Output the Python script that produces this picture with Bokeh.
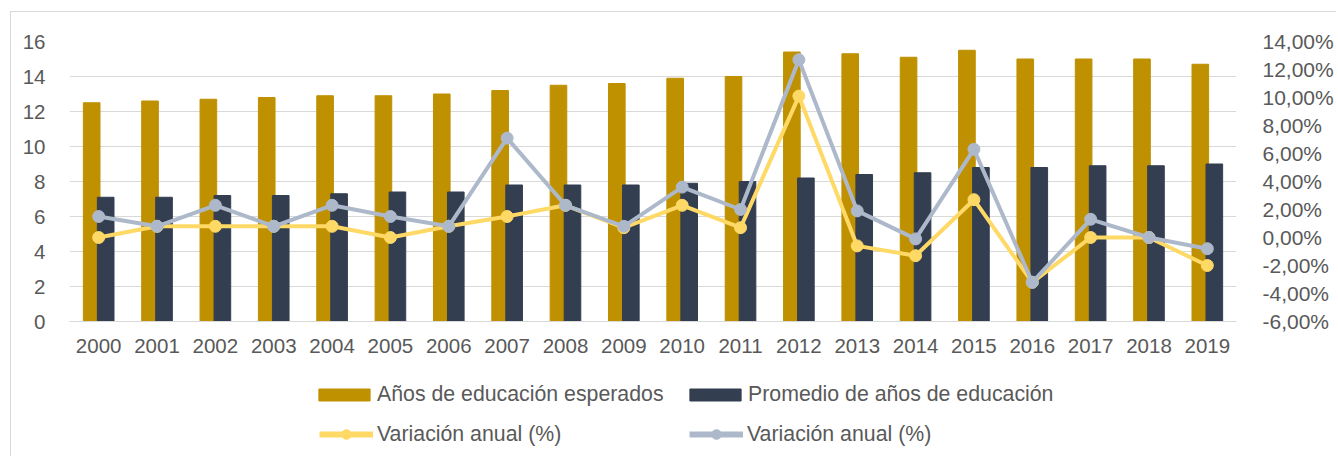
from bokeh.plotting import figure
from bokeh.layouts import column
from bokeh.models import (Range1d, LinearAxis, FixedTicker, CustomJSTickFormatter,
                          Legend, LegendItem, ColumnDataSource)
from bokeh.transform import dodge
from bokeh.embed import file_html
from bokeh.resources import INLINE

years = [str(y) for y in range(2000, 2020)]
esperados = [12.5, 12.6, 12.7, 12.8, 12.9, 12.9, 13.0, 13.2, 13.5, 13.6,
             13.9, 14.0, 15.4, 15.3, 15.1, 15.5, 15.0, 15.0, 15.0, 14.7]
promedio = [7.1, 7.1, 7.2, 7.2, 7.3, 7.4, 7.4, 7.8, 7.8, 7.8,
            7.9, 8.0, 8.2, 8.4, 8.5, 8.8, 8.8, 8.9, 8.9, 9.0]
var_esperados = [0.0, 0.8, 0.8, 0.8, 0.8, 0.0, 0.8, 1.5, 2.3, 0.7,
                 2.3, 0.7, 10.1, -0.6, -1.3, 2.7, -3.2, 0.0, 0.0, -2.0]
var_promedio = [1.5, 0.8, 2.3, 0.8, 2.3, 1.5, 0.8, 7.1, 2.3, 0.8,
                3.6, 2.0, 12.7, 1.9, -0.1, 6.3, -3.2, 1.3, 0.0, -0.8]
left_ticks = [0, 2, 4, 6, 8, 10, 12, 14, 16]
right_ticks = [-6, -4, -2, 0, 2, 4, 6, 8, 10, 12, 14]
labels = ["Años de educación esperados", "Promedio de años de educación",
          "Variación anual (%)", "Variación anual (%)"]

GOLD = "#BF9000"
DARK = "#333F50"
YELLOW = "#FFD966"
GRAY = "#ADB9CA"
TXT = "#595959"
GRID = "#d9d9d9"
FONT = "Liberation Sans"

src = ColumnDataSource(dict(year=years, esp=esperados, prom=promedio,
                            vesp=var_esperados, vprom=var_promedio))

p = figure(x_range=years, y_range=Range1d(0, 16), width=1325, height=354,
           output_backend="svg", toolbar_location=None,
           min_border_left=58, min_border_right=93, min_border_top=29,
           min_border_bottom=45)
p.outline_line_color = None
p.extra_y_ranges = {"pct": Range1d(-6, 14)}

p.vbar(x=dodge("year", -0.12, range=p.x_range), top="esp", width=0.285,
       source=src, color=GOLD)
p.vbar(x=dodge("year", 0.12, range=p.x_range), top="prom", width=0.285,
       source=src, color=DARK)
p.line(x="year", y="vesp", source=src, y_range_name="pct",
       line_color=YELLOW, line_width=4)
p.scatter(x="year", y="vesp", source=src, y_range_name="pct",
          size=12, color=YELLOW)
p.line(x="year", y="vprom", source=src, y_range_name="pct",
       line_color=GRAY, line_width=4)
p.scatter(x="year", y="vprom", source=src, y_range_name="pct",
          size=12, color=GRAY)

# left axis
ya = p.yaxis[0]
ya.ticker = FixedTicker(ticks=left_ticks)
ya.axis_line_color = None
ya.major_tick_line_color = None
ya.minor_tick_line_color = None
ya.major_label_standoff = 18
ya.major_label_text_font = FONT
ya.major_label_text_font_size = "20.5px"
ya.major_label_text_color = TXT

# right axis
ra = LinearAxis(y_range_name="pct", ticker=FixedTicker(ticks=right_ticks),
                formatter=CustomJSTickFormatter(code="""
                    let v = Math.abs(tick) < 1e-9 ? 0 : tick;
                    return v.toFixed(2).replace('.', ',') + '%';
                """))
ra.axis_line_color = None
ra.major_tick_line_color = None
ra.minor_tick_line_color = None
ra.major_label_standoff = 20
ra.major_label_text_font = FONT
ra.major_label_text_font_size = "21px"
ra.major_label_text_color = TXT
p.add_layout(ra, "right")

# x axis
xa = p.xaxis[0]
xa.axis_line_color = GRID
xa.axis_line_width = 1
xa.major_tick_line_color = None
xa.minor_tick_line_color = None
xa.major_label_standoff = 11
xa.major_label_text_font = FONT
xa.major_label_text_font_size = "20.5px"
xa.major_label_text_color = TXT

p.xgrid.grid_line_color = None
p.ygrid.grid_line_color = GRID
p.ygrid.grid_line_width = 1

# legend strip below the chart; proxy glyphs use the same data but the
# y range keeps every mark out of view, so only the legend keys are drawn
lf = figure(width=1325, height=90, output_backend="svg", toolbar_location=None,
            x_range=Range1d(0, 20), y_range=Range1d(100, 200),
            x_axis_type=None, y_axis_type=None, min_border=0)
lf.outline_line_color = None
lf.grid.visible = False
g1 = lf.vbar(x="esp", top="esp", source=src, width=0.5, color=GOLD)
g2 = lf.vbar(x="prom", top="prom", source=src, width=0.5, color=DARK)
g3 = lf.line(x="esp", y="vesp", source=src, line_color=YELLOW, line_width=6)
g4 = lf.scatter(x="esp", y="vesp", source=src, size=10, color=YELLOW)
g5 = lf.line(x="prom", y="vprom", source=src, line_color=GRAY, line_width=6)
g6 = lf.scatter(x="prom", y="vprom", source=src, size=10, color=GRAY)


def make_legend(items, loc, gw, gh, standoff, lw):
    lg = Legend(items=items, orientation="horizontal", location=loc)
    lg.padding = 0
    lg.margin = 0
    lg.spacing = 10
    lg.border_line_color = None
    lg.background_fill_alpha = 0
    lg.glyph_width = gw
    lg.glyph_height = gh
    lg.label_standoff = standoff
    lg.label_width = lw
    lg.label_height = 30
    lg.label_text_font = FONT
    lg.label_text_font_size = "21.3px"
    lg.label_text_color = TXT
    return lg


leg_bars = make_legend([LegendItem(label=labels[0], renderers=[g1]),
                        LegendItem(label=labels[1], renderers=[g2])],
                       (243, 47), 64, 15, 1, 296)
leg_lines = make_legend([LegendItem(label=labels[2], renderers=[g3, g4]),
                         LegendItem(label=labels[3], renderers=[g5, g6])],
                        (250, 7), 54, 24, 4, 302)
lf.add_layout(leg_bars, "center")
lf.add_layout(leg_lines, "center")

layout = column(p, lf, styles={"margin-left": "10px", "margin-top": "11px",
                               "border-left": "1px solid #d9d9d9",
                               "border-top": "1px solid #d9d9d9"})
open("out.html", "w").write(file_html(layout, INLINE))
